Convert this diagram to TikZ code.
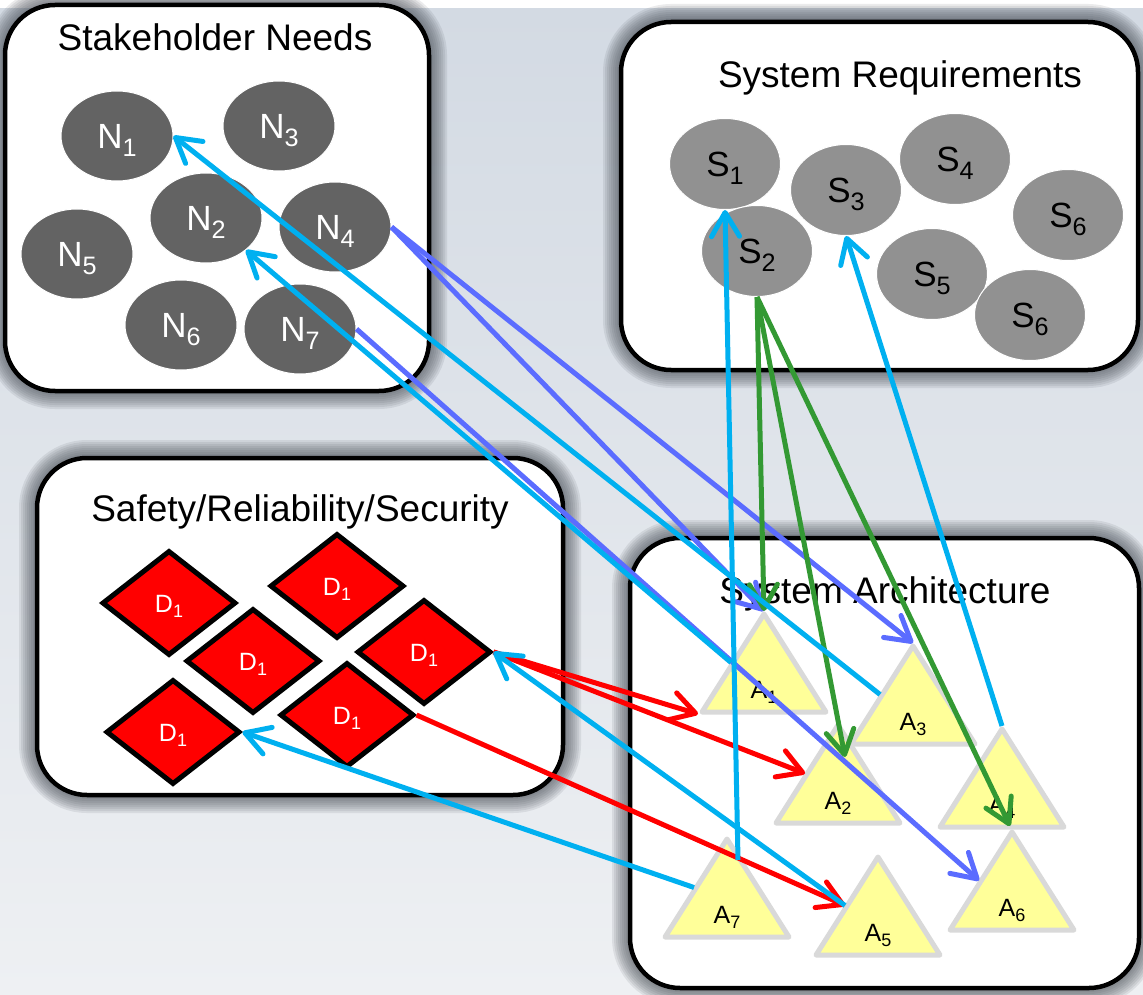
\documentclass[tikz,border=0pt]{standalone}
\usepackage{fontspec}
\setmainfont{Liberation Sans}
\usepackage{graphicx}
\usetikzlibrary{shapes.geometric,arrows.meta,calc}

\definecolor{bgtop}{HTML}{D3DAE3}
\definecolor{bgbot}{HTML}{EEF0F3}
\definecolor{glowc}{HTML}{4A5058}
\definecolor{needfill}{HTML}{636363}
\definecolor{reqfill}{HTML}{919191}
\definecolor{archfill}{HTML}{FFFF99}
\definecolor{archline}{HTML}{D9D9D9}
\definecolor{hazfill}{HTML}{FF0000}
\definecolor{lcyan}{HTML}{00B0F0}
\definecolor{lviolet}{HTML}{5B6CFF}
\definecolor{lgreen}{HTML}{339933}
\definecolor{lred}{HTML}{FF0000}

% letter with a lowered, smaller index
\newcommand\lb[2]{#1\raisebox{-0.23em}{\scalebox{0.72}{#2}}}

\tikzset{
  panel/.style={draw=black, line width=4.5pt, fill=white, rounded corners=50pt},
  panelglow/.style={draw=glowc, opacity=0.11, rounded corners=50pt},
  paneltitle/.style={anchor=base, inner sep=0pt, font=\fontsize{37}{40}\selectfont},
  need/.style={ellipse, fill=needfill, draw=white, line width=1pt, text=white,
    minimum width=112pt, minimum height=90pt, inner sep=0pt,
    text height=25pt, text depth=0pt, font=\fontsize{35}{38}\selectfont},
  req/.style={need, fill=reqfill, text=black, minimum width=111pt, minimum height=91pt},
  hazard/.style={diamond, fill=hazfill, draw=black, line width=5pt, text=white,
    minimum width=134pt, minimum height=105pt, inner sep=0pt,
    text height=18pt, text depth=0pt, font=\fontsize{25}{28}\selectfont},
  archtri/.style={fill=archfill, draw=archline, line width=5pt, line join=round},
  archlabel/.style={inner sep=0pt, text height=18pt, text depth=0pt,
    font=\fontsize{25}{28}\selectfont},
  link/.style={line width=5pt, -{Straight Barb[length=24pt,width=28pt,round]}},
}

% soft shadow around a panel
\newcommand\glowpanel[4]{%
  \foreach \w in {4,8,...,36} {\draw[panelglow, line width=\w pt] (#1,#2) rectangle (#3,#4);}}

% architecture element: name, apex, label
\newcommand\archnode[3]{%
  \coordinate (#1) at #2;
  \draw[archtri] ($(#1)+(0,3)$) -- ++(-62,98) -- ++(124,0) -- cycle;
  \node[archlabel] (#1-lab) at ($(#1)+(0,78)$) {#3};
  \coordinate (#1-l) at ($(#1)+(-33,51.5)$);
  \coordinate (#1-bl) at ($(#1)+(-66,103)$);
}

\begin{document}
\begin{tikzpicture}[x=1pt, y=-1pt]
\useasboundingbox (0,0) rectangle (1143,995);

% backdrop
\fill[white] (0,0) rectangle (1143,9);
\shade[top color=bgtop, bottom color=bgbot] (0,9) rectangle (1143,995);

% panels
\glowpanel{5}{5}{429}{391}
\glowpanel{621}{22}{1138}{370}
\glowpanel{37}{458}{563}{795}
\glowpanel{630}{538}{1139}{988}
\draw[panel] (5,5) rectangle (429,391);
\draw[panel] (621,22) rectangle (1138,370);
\draw[panel] (37,458) rectangle (563,795);
\draw[panel] (630,538) rectangle (1139,988);

\node[paneltitle] (tNeeds) at (215,51) {Stakeholder Needs};
\node[paneltitle] (tReq) at (900,88) {System Requirements};
\node[paneltitle] (tSafe) at (300,521) {Safety/Reliability/Security};
\node[paneltitle] (tArch) at (885,603) {System Architecture};

% stakeholder needs
\node[need] (N1) at (117,136) {\lb{N}{1}};
\node[need] (N3) at (279,126) {\lb{N}{3}};
\node[need] (N2) at (206,218) {\lb{N}{2}};
\node[need] (N4) at (335,227) {\lb{N}{4}};
\node[need] (N5) at (77,254) {\lb{N}{5}};
\node[need] (N6) at (181,325) {\lb{N}{6}};
\node[need] (N7) at (300,329) {\lb{N}{7}};

% system requirements
\node[req] (S1) at (725,164) {\lb{S}{1}};
\node[req] (S2) at (757,251) {\lb{S}{2}};
\node[req] (S3) at (846,190) {\lb{S}{3}};
\node[req] (S4) at (955,159) {\lb{S}{4}};
\node[req] (S6a) at (1068,215) {\lb{S}{6}};
\node[req] (S5) at (932,274) {\lb{S}{5}};
\node[req] (S6b) at (1030,315) {\lb{S}{6}};

% hazards
\node[hazard] (Da) at (169,603) {\lb{D}{1}};
\node[hazard] (Db) at (337,586) {\lb{D}{1}};
\node[hazard] (Dc) at (253,661) {\lb{D}{1}};
\node[hazard] (Dd) at (424,652) {\lb{D}{1}};
\node[hazard] (De) at (173,732) {\lb{D}{1}};
\node[hazard] (Df) at (347,715) {\lb{D}{1}};

% architecture elements
\archnode{A1}{(764,611)}{\lb{A}{1}}
\archnode{A3}{(913,643)}{\lb{A}{3}}
\archnode{A2}{(838,722)}{\lb{A}{2}}
\archnode{A4}{(1002,726)}{\lb{A}{4}}
\archnode{A6}{(1012,829)}{\lb{A}{6}}
\archnode{A7}{(727,836)}{\lb{A}{7}}
\archnode{A5}{(878,854)}{\lb{A}{5}}
\coordinate (A7-s) at ($(A7)+(11,24)$);
\coordinate (A2-g) at ($(A2)+(7,35)$);
\coordinate (A4-b) at ($(A4)+(8,100)$);

% trace links
\draw[link, lviolet] (N4.east) -- (A1);
\draw[link, lviolet] (N4.east) -- (A3);
\draw[link, lviolet] (N7.east) -- (A6-l);
\draw[link, lgreen] (S2.south) -- (A1);
\draw[link, lgreen] (S2.south) -- (A2-g);
\draw[link, lgreen] (S2.south) -- (A4-b);
\draw[link, lred] (Dd.east) -- (A1-bl);
\draw[link, lred] (Dd.east) -- (A2-l);
\draw[link, lred] (Df.east) -- (A5-l);
\draw[link, lcyan] (A3-l) -- (N1.east);
\draw[link, lcyan] (A1-l) -- (N2.south east);
\draw[link, lcyan] (A7-s) -- (S1.south);
\draw[link, lcyan] (A4) -- (S3.south);
\draw[link, lcyan] (A5-l) -- (Dd.east);
\draw[link, lcyan] (A7-l) -- (De.east);
\end{tikzpicture}
\end{document}
